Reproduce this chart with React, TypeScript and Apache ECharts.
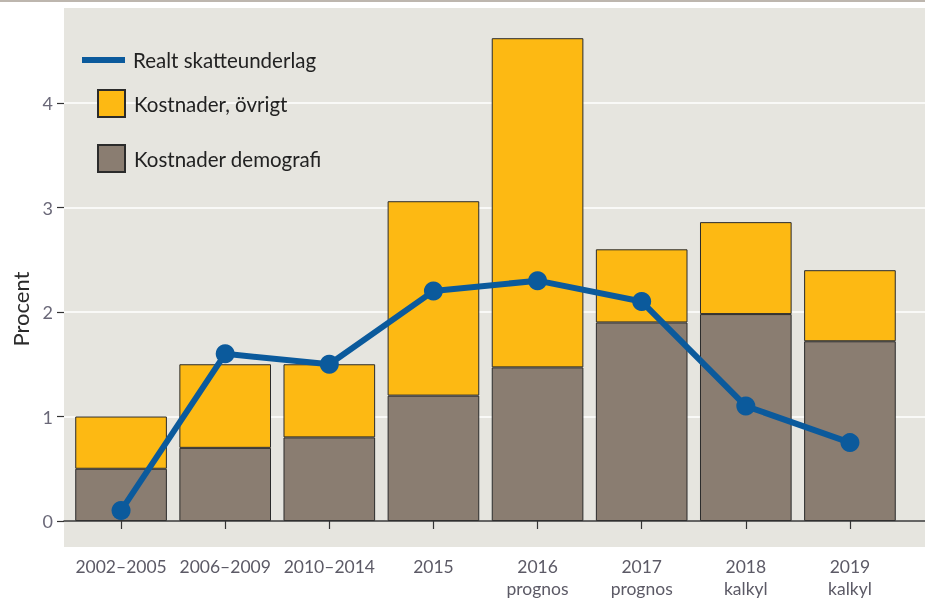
import React, { useEffect, useRef } from "react";
import * as echarts from "echarts";

const categories = [
  "2002–2005",
  "2006–2009",
  "2010–2014",
  "2015",
  "2016\nprognos",
  "2017\nprognos",
  "2018\nkalkyl",
  "2019\nkalkyl",
];
const demografi = [0.5, 0.7, 0.8, 1.2, 1.47, 1.9, 1.98, 1.72];
const ovrigt = [0.5, 0.8, 0.7, 1.86, 3.15, 0.7, 0.88, 0.68];
const skatteunderlag = [0.1, 1.6, 1.5, 2.2, 2.3, 2.1, 1.1, 0.75];
const yTicks = [0, 1, 2, 3, 4];

const BLUE = "#0b5a9c";
const YELLOW = "#fdb913";
const GRAY = "#8a7d71";
const BG = "#e6e5df";
const FONT = "Lato";
const YMAX = 513 / 104.5;

export default function App() {
  const ref = useRef<HTMLDivElement>(null);
  useEffect(() => {
    if (!ref.current) return;
    const chart = echarts.init(ref.current, null, { renderer: "svg" });
    const legendText = { fontSize: 20.5, color: "#222", fontFamily: FONT, lineHeight: 22 };
    chart.setOption({
      animation: false,
      textStyle: { fontFamily: FONT },
      graphic: [
        { type: "rect", z: -10, shape: { x: 0, y: 0, width: 925, height: 2 }, style: { fill: "#bdb6ae" } },
        { type: "rect", z: -10, shape: { x: 64, y: 8, width: 861, height: 539 }, style: { fill: BG } },
        {
          type: "text",
          x: 20,
          y: 309,
          rotation: Math.PI / 2,
          style: { text: "Procent", fontSize: 22, fontFamily: FONT, fill: "#2b2b2b", align: "center", verticalAlign: "middle" },
        },
      ],
      legend: [
        {
          data: ["Realt skatteunderlag"],
          left: 82,
          top: 49,
          padding: 0,
          itemWidth: 43,
          itemHeight: 6,
          icon: "rect",
          textStyle: { ...legendText, padding: [0, 0, 0, 3] },
        },
        {
          data: ["Kostnader, övrigt"],
          left: 97,
          top: 89,
          padding: 0,
          itemWidth: 27,
          itemHeight: 27,
          icon: "rect",
          textStyle: { ...legendText, padding: [0, 0, 0, 4] },
        },
        {
          data: ["Kostnader demografi"],
          left: 97,
          top: 144,
          padding: 0,
          itemWidth: 27,
          itemHeight: 27,
          icon: "rect",
          textStyle: { ...legendText, padding: [0, 0, 0, 4] },
        },
      ],
      grid: [
        { left: 64, right: 0, top: 8, height: 513 },
        { left: 69, right: 23, top: 8, height: 513 },
      ],
      xAxis: [
        {
          gridIndex: 0,
          type: "value",
          min: 0,
          max: 1,
          z: 3,
          axisLine: { show: true, lineStyle: { color: "#333", width: 1.5 } },
          axisTick: { show: false },
          axisLabel: { show: false },
          splitLine: { show: false },
        },
        {
          gridIndex: 1,
          type: "category",
          data: categories,
          offset: 26,
          axisLine: { show: false },
          axisTick: { show: true, alignWithLabel: true, interval: 0, length: 8, lineStyle: { color: "#333", width: 1.2 } },
          axisLabel: { interval: 0, fontSize: 17.5, color: "#5c5a66", lineHeight: 22, margin: 8, fontFamily: FONT },
          splitLine: { show: false },
        },
      ],
      yAxis: [
        {
          gridIndex: 0,
          type: "value",
          min: 0,
          max: YMAX,
          interval: 1,
          axisLine: { show: false },
          axisTick: { show: true, length: 7, customValues: yTicks, lineStyle: { color: "#333", width: 1.2 } },
          axisLabel: { customValues: yTicks, fontSize: 18, color: "#6a6878", margin: 11, fontFamily: FONT },
          splitLine: { show: true, lineStyle: { color: "#ffffff", width: 1.5 } },
        },
        {
          gridIndex: 1,
          type: "value",
          min: 0,
          max: YMAX,
          show: false,
          splitLine: { show: false },
        },
      ],
      series: [
        {
          name: "Kostnader demografi",
          type: "bar",
          stack: "k",
          xAxisIndex: 1,
          yAxisIndex: 1,
          barCategoryGap: "12%",
          data: demografi,
          itemStyle: { color: GRAY, borderColor: "#2b2b2b", borderWidth: 1 },
        },
        {
          name: "Kostnader, övrigt",
          type: "bar",
          stack: "k",
          xAxisIndex: 1,
          yAxisIndex: 1,
          barCategoryGap: "12%",
          data: ovrigt,
          itemStyle: { color: YELLOW, borderColor: "#2b2b2b", borderWidth: 1 },
        },
        {
          name: "Realt skatteunderlag",
          type: "line",
          xAxisIndex: 1,
          yAxisIndex: 1,
          z: 5,
          data: skatteunderlag,
          symbol: "circle",
          symbolSize: 19,
          itemStyle: { color: BLUE },
          lineStyle: { color: BLUE, width: 6 },
        },
      ],
    });
    return () => chart.dispose();
  }, []);
  return <div ref={ref} style={{ position: "fixed", left: 0, top: 0, width: 925, height: 601 }} />;
}
